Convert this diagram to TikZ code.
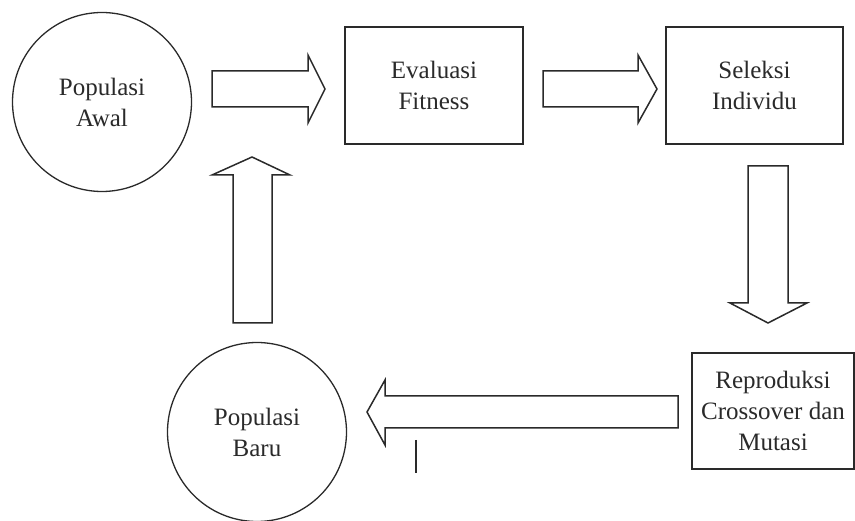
\documentclass[tikz,border=0pt]{standalone}
\usepackage{fontspec}
\setmainfont{Liberation Serif}
\definecolor{ink}{HTML}{2A2A2A}
\begin{document}
\begin{tikzpicture}[x=1pt,y=-1pt,
  lbl/.style={font=\fontsize{25}{31}\selectfont, text=ink, align=center},
  circ/.style={draw=ink, circle, minimum size=179pt, inner sep=0pt, line width=1.3pt},
  box/.style={draw=ink, rectangle, inner sep=0pt, line width=1.6pt},
  blockarrow/.style={draw=ink, fill=white, line width=1.5pt, line join=miter}]
\useasboundingbox (0,0) rectangle (855,521);

% stages of the genetic algorithm
\node[circ, lbl] (awal) at (102,102) {Populasi\\Awal};
\node[box, lbl, minimum width=178pt, minimum height=117pt] (eval) at (434,85.5) {Evaluasi\\Fitness};
\node[box, lbl, minimum width=177pt, minimum height=117pt] (seleksi) at (754.5,85.5) {Seleksi\\Individu};
\node[box, lbl, minimum width=162pt, minimum height=116pt] (repro) at (773,411) {Reproduksi\\Crossover dan\\Mutasi};
\node[circ, lbl] (baru) at (257,432) {Populasi\\Baru};

% block arrows between the stages
\draw[blockarrow] (212,71) -- (308,71) -- (308,55) -- (325,89) -- (308,123) -- (308,107) -- (212,107) -- cycle;
\draw[blockarrow] (543,71) -- (638,71) -- (638,55) -- (657,89) -- (638,123) -- (638,107) -- (543,107) -- cycle;
\draw[blockarrow] (748,166) -- (788,166) -- (788,303) -- (807,303) -- (768,323) -- (730,303) -- (748,303) -- cycle;
\draw[blockarrow] (678,396) -- (385,396) -- (385,380) -- (367,412) -- (385,445) -- (385,428) -- (678,428) -- cycle;
\draw[blockarrow] (233,323) -- (233,175) -- (212,175) -- (252,157) -- (290,175) -- (272,175) -- (272,323) -- cycle;

% stray tick below the left arrow
\coordinate (tickA) at (416,440);
\coordinate (tickB) at (416,473);
\draw[ink, line width=1.5pt] (tickA) -- (tickB);
\end{tikzpicture}
\end{document}
